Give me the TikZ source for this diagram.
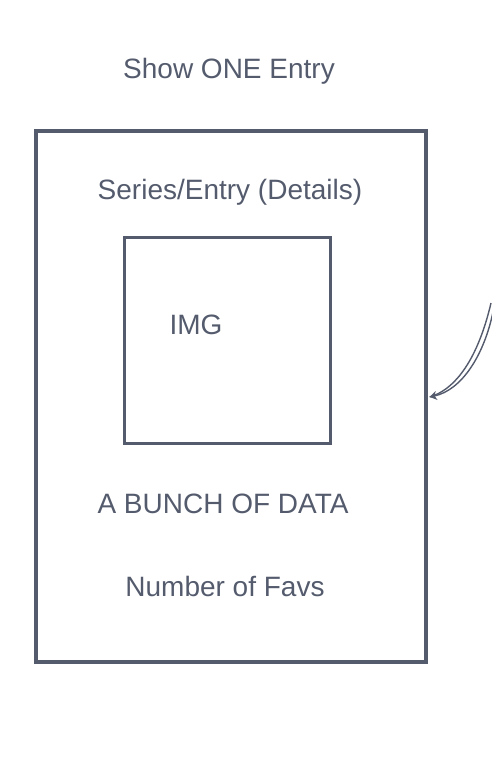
\documentclass[tikz,border=0pt]{standalone}
\usepackage{fontspec}
\setmainfont{Liberation Sans}
\usetikzlibrary{arrows.meta}
\definecolor{ink}{HTML}{545B6D}
\begin{document}
\begin{tikzpicture}[x=1pt,y=-1pt,
  lbl/.style={text=ink,font=\fontsize{28}{32}\selectfont,inner sep=0pt,anchor=center},
  frame/.style={draw=ink,line width=3.4pt},
  conn/.style={draw=ink,line width=1.4pt}]
\useasboundingbox (0,0) rectangle (491,757);
\node[frame,minimum width=390pt,minimum height=531pt,inner sep=0pt] (outer) at (231,396.5) {};
\node[frame,line width=3pt,minimum width=206pt,minimum height=206pt,inner sep=0pt] (img) at (227,340) {};
\node[lbl] (title) at (229,71) {Show ONE Entry};
\node[lbl] (series) at (230,192) {Series/Entry (Details)};
\node[lbl] (imgt) at (196,325) {IMG};
\node[lbl] (data) at (223,504) {A BUNCH OF DATA};
\node[lbl] (favs) at (225,586) {Number of Favs};
\coordinate (s1) at (491,303);
\coordinate (s2) at (493,312);
\coordinate (t) at (outer.east |- 0,397);
\draw[conn] (s1) .. controls (480,350) and (460,388) .. ([xshift=2pt]t);
\draw[conn,-{Stealth[length=7pt,width=9pt,inset=2pt]}] (s2) .. controls (484,355) and (462,390) .. ([xshift=2pt]t);
\end{tikzpicture}
\end{document}
